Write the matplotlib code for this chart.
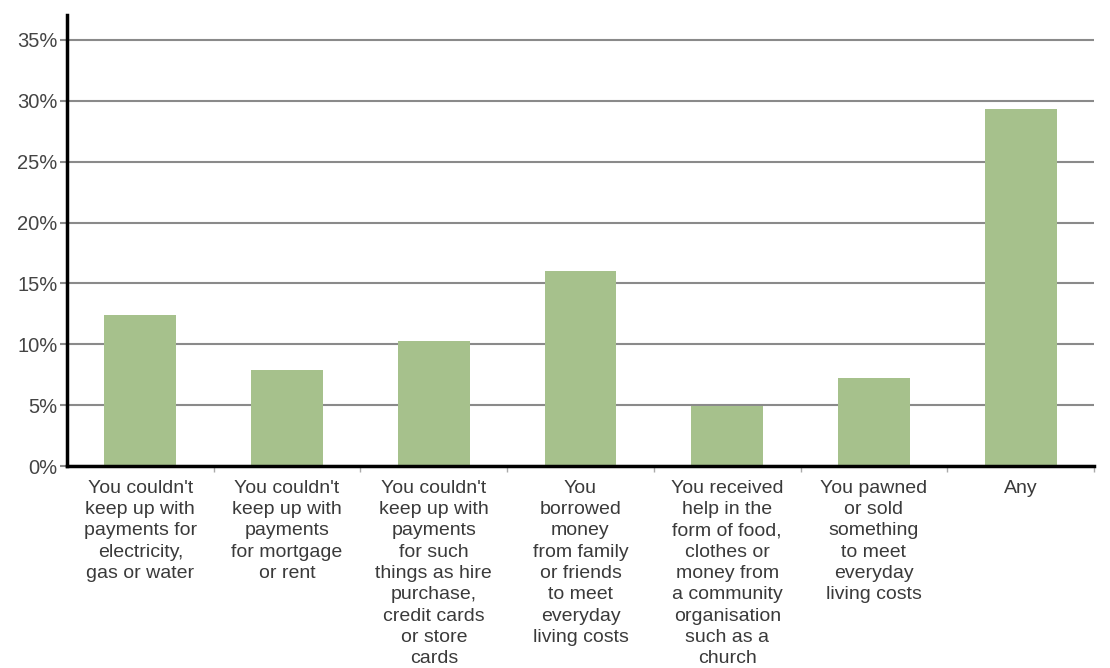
import numpy as np
import matplotlib
matplotlib.use("Agg")
import matplotlib.pyplot as plt
from matplotlib.ticker import FixedLocator

# Data
categories = [
    "You couldn't\nkeep up with\npayments for\nelectricity,\ngas or water",
    "You couldn't\nkeep up with\npayments\nfor mortgage\nor rent",
    "You couldn't\nkeep up with\npayments\nfor such\nthings as hire\npurchase,\ncredit cards\nor store\ncards",
    "You\nborrowed\nmoney\nfrom family\nor friends\nto meet\neveryday\nliving costs",
    "You received\nhelp in the\nform of food,\nclothes or\nmoney from\na community\norganisation\nsuch as a\nchurch",
    "You pawned\nor sold\nsomething\nto meet\neveryday\nliving costs",
    "Any",
]
values = [12.4, 7.9, 10.3, 16.0, 4.9, 7.2, 29.3]
y_ticks = [0, 5, 10, 15, 20, 25, 30, 35]
y_tick_labels = ["0%", "5%", "10%", "15%", "20%", "25%", "30%", "35%"]

plt.rcParams['font.family'] = ['Liberation Sans', 'DejaVu Sans']

fig = plt.figure(figsize=(11.1, 6.68), dpi=100)
ax = fig.add_axes([67 / 1110, 1 - 466 / 668, (1094 - 67) / 1110, (466 - 15) / 668])

x = np.arange(len(values))
ax.bar(x, values, width=0.49, color='#a6c18c', zorder=3)

ax.set_xlim(-0.5, len(values) - 0.5)
ax.set_ylim(0, 37.05)

# grid lines
ax.set_yticks(y_ticks)
ax.set_yticklabels(y_tick_labels, fontsize=14.5, color='#444444')
ax.yaxis.grid(True, color='#8a8a8a', linewidth=1.5, zorder=1)
ax.tick_params(axis='y', length=5, width=1.5, color='#8a8a8a', pad=2)

# category labels centred, small ticks at the boundaries
ax.set_xticks(x)
ax.set_xticklabels(categories, fontsize=14, color='#3a3a3a', linespacing=1.33)
ax.tick_params(axis='x', length=0, pad=10)
ax.xaxis.set_minor_locator(FixedLocator(np.arange(0.5, len(values), 1.0)))
ax.tick_params(axis='x', which='minor', length=4, width=1, color='#aaaaaa')

for side in ['top', 'right']:
    ax.spines[side].set_visible(False)
ax.spines['left'].set_linewidth(2.5)
ax.spines['bottom'].set_linewidth(2.5)
ax.spines['left'].set_zorder(4)
ax.spines['bottom'].set_zorder(4)

plt.savefig('out.png', dpi=100)
plt.close()
